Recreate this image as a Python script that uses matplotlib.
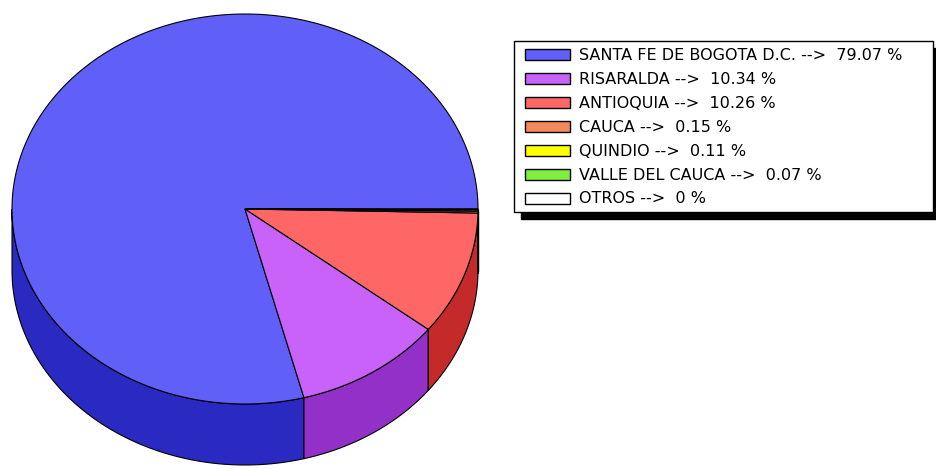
import matplotlib
matplotlib.use("Agg")
import matplotlib.pyplot as plt
from matplotlib.patches import Polygon, Rectangle
import numpy as np

# departamentos y participacion (%)
deptos = ["SANTA FE DE BOGOTA D.C.", "RISARALDA", "ANTIOQUIA", "CAUCA",
          "QUINDIO", "VALLE DEL CAUCA", "OTROS"]
porcentajes = [79.07, 10.34, 10.26, 0.15, 0.11, 0.07, 0.0]
colores_top = ["#6060f8", "#c862f8", "#ff6666", "#f48a5c", "#ffff00", "#80f040", "#ffffff"]
colores_lado = ["#2a2ac2", "#9230c8", "#c42a2a", "#c0603a", "#c8c800", "#50b020", "#cccccc"]

# geometria del pastel (pixeles)
cx, cy = 245, 209
a, b = 233, 195
prof = 61

fig = plt.figure(figsize=(9.37, 4.69), dpi=100)
ax = fig.add_axes([0, 0, 1, 1])
ax.set_xlim(0, 937)
ax.set_ylim(469, 0)
ax.axis("off")


def arco(t1, t2, dy=0, n=200):
    t = np.radians(np.linspace(t1, t2, n))
    return np.column_stack([cx + a * np.cos(t), cy - b * np.sin(t) + dy])


total = sum(porcentajes)
angulos = np.concatenate([[0], np.cumsum(porcentajes) / total * 360])

# lados (solo la mitad de abajo se ve)
for i in range(len(deptos)):
    t1, t2 = angulos[i], angulos[i + 1]
    if t2 <= t1:
        continue
    s1, s2 = max(t1, 180), min(t2, 360)
    if s2 <= s1:
        continue
    arriba = arco(s1, s2)
    abajo = arco(s2, s1, dy=prof)
    ax.add_patch(Polygon(np.vstack([arriba, abajo]), closed=True,
                         facecolor=colores_lado[i], edgecolor="black", lw=0.8))

# cara superior
for i in range(len(deptos)):
    t1, t2 = angulos[i], angulos[i + 1]
    if t2 <= t1:
        continue
    pts = np.vstack([[cx, cy], arco(t1, t2)])
    ax.add_patch(Polygon(pts, closed=True, facecolor=colores_top[i],
                         edgecolor="black", lw=0.8))

# leyenda con sombra
x0, y0, w, h = 514, 41, 419, 171
ax.add_patch(Rectangle((x0 + 7, y0 + 7), w, h, facecolor="black", edgecolor="black"))
ax.add_patch(Rectangle((x0, y0), w, h, facecolor="white", edgecolor="black", lw=1))

fila0, paso = 55, 23.9
for i, (d, p) in enumerate(zip(deptos, porcentajes)):
    y = fila0 + i * paso
    ax.add_patch(Rectangle((525, y - 5.5), 45, 11, facecolor=colores_top[i],
                           edgecolor="black", lw=1))
    txt = f"{p:g}" if p == 0 else f"{p:.2f}"
    ax.text(579, y + 0.5, f"{d} -->  {txt} %", fontsize=11.5, va="center",
            ha="left", color="black", family="DejaVu Sans")

plt.savefig("out.png", dpi=100)
